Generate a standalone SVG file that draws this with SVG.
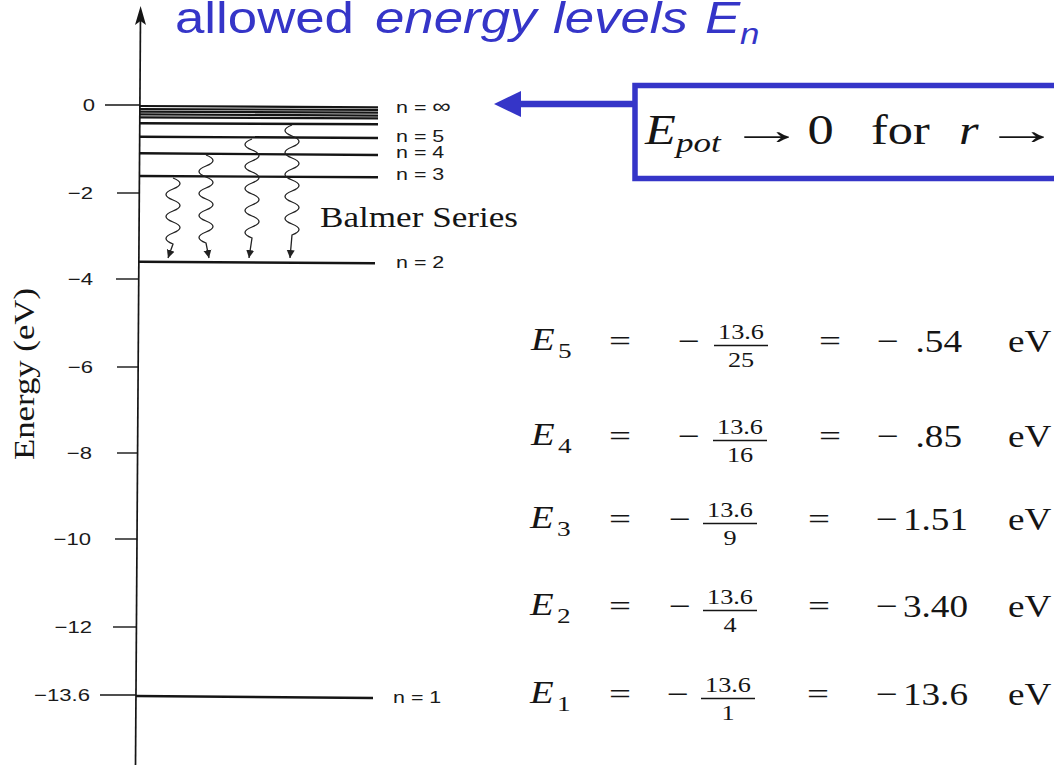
<svg xmlns="http://www.w3.org/2000/svg" width="1054" height="765" viewBox="0 0 1054 765">
<style>
.ink{stroke:#151515;fill:none}
.lvl{stroke:#151515;stroke-width:2.4;fill:none}
.clu{stroke:#151515;stroke-width:2.2;fill:none}
.tick{stroke:#151515;stroke-width:1.4}
.sans{font-family:"Liberation Sans",Arial,sans-serif;fill:#1a1a1a}
.tl{font-size:17px}
.nl{font-size:16.5px}
.serif{font-family:"Liberation Serif","Times New Roman",serif;fill:#151515}
.mi{font-style:italic;font-size:31px}
.sub{font-size:21px}
.mo{font-size:30px}
.fr{font-size:21px}
.mn{font-size:31px}
.blue{fill:#3535c8}
.wave{stroke:#222;stroke-width:1.3;fill:none}
</style>
<defs>
<marker id="wh" viewBox="0 0 8 10" refX="8" refY="5" markerWidth="8" markerHeight="10" markerUnits="userSpaceOnUse" orient="auto">
<path d="M0,1 L8,5 L0,9 Z" fill="#222"/>
</marker>
</defs>
<rect width="1054" height="765" fill="#ffffff"/>

<g id="axis">
<line x1="140.5" y1="14" x2="135.5" y2="765" stroke="#151515" stroke-width="1.7"/>
<path d="M140.6,6 L146,25 L140.5,21 L135,25 Z" fill="#151515"/>
<line class="tick" x1="105" y1="105" x2="140" y2="105"/>
<line class="tick" x1="117" y1="193" x2="139.5" y2="193"/>
<line class="tick" x1="116" y1="279" x2="139" y2="279"/>
<line class="tick" x1="117" y1="367" x2="138.5" y2="367"/>
<line class="tick" x1="117" y1="453" x2="138" y2="453"/>
<line class="tick" x1="115" y1="539" x2="137" y2="539"/>
<line class="tick" x1="113" y1="627" x2="136.5" y2="627"/>
<line class="tick" x1="100" y1="695" x2="136" y2="695"/>
<text class="sans tl" text-anchor="end" transform="translate(95 111) scale(1.3 1)">0</text>
<text class="sans tl" text-anchor="end" transform="translate(93 199) scale(1.3 1)">−2</text>
<text class="sans tl" text-anchor="end" transform="translate(93 285) scale(1.3 1)">−4</text>
<text class="sans tl" text-anchor="end" transform="translate(93 373) scale(1.3 1)">−6</text>
<text class="sans tl" text-anchor="end" transform="translate(92 459) scale(1.3 1)">−8</text>
<text class="sans tl" text-anchor="end" transform="translate(91 545) scale(1.3 1)">−10</text>
<text class="sans tl" text-anchor="end" transform="translate(92 633) scale(1.3 1)">−12</text>
<text class="sans tl" text-anchor="end" transform="translate(90 701) scale(1.3 1)">−13.6</text>
<text class="serif" font-size="30" textLength="172" lengthAdjust="spacingAndGlyphs" transform="translate(34 460) rotate(-90)">Energy (eV)</text>
</g>

<g id="level-inf">
<line class="clu" x1="140" y1="106" x2="378" y2="107.3"/>
<line class="clu" x1="140" y1="109" x2="378" y2="110"/>
<line class="clu" x1="140" y1="111.7" x2="378" y2="112.7"/>
<line class="clu" x1="140" y1="114.3" x2="378" y2="115.7"/>
<line class="clu" x1="140" y1="117.3" x2="378" y2="118.3"/>
<text class="sans nl" transform="translate(396 113) scale(1.3 1)">n = <tspan font-size="20">∞</tspan></text>
</g>
<g id="level-6">
<line class="lvl" x1="140" y1="123.3" x2="378" y2="124.3"/>
</g>
<g id="level-5">
<line class="lvl" x1="140" y1="136.7" x2="378" y2="138"/>
<text class="sans nl" transform="translate(396 142) scale(1.3 1)">n = 5</text>
</g>
<g id="level-4">
<line class="lvl" x1="140" y1="153.3" x2="378" y2="155"/>
<text class="sans nl" transform="translate(396 158) scale(1.3 1)">n = 4</text>
</g>
<g id="level-3">
<line class="lvl" x1="140" y1="176" x2="378" y2="177.3"/>
<text class="sans nl" transform="translate(396 180) scale(1.3 1)">n = 3</text>
</g>
<g id="level-2">
<line class="lvl" x1="139" y1="261.7" x2="375" y2="263.3"/>
<text class="sans nl" transform="translate(396 268) scale(1.3 1)">n = 2</text>
</g>
<g id="level-1">
<line class="lvl" x1="136" y1="696" x2="373" y2="698"/>
<text class="sans nl" transform="translate(393 703) scale(1.3 1)">n = 1</text>
</g>
<g id="balmer-label">
<text class="serif" font-size="29" x="320" y="227" textLength="198" lengthAdjust="spacingAndGlyphs">Balmer Series</text>
</g>

<g id="transitions">
<path class="wave" marker-end="url(#wh)" d="M173,178 q14,5.5 0,11 t0,11 t0,11 t0,11 t0,11 t0,11 L168,258"/>
<path class="wave" marker-end="url(#wh)" d="M206,155 q14,5.5 0,11 t0,11 t0,11 t0,11 t0,11 t0,11 t0,11 t0,11 L209,258"/>
<path class="wave" marker-end="url(#wh)" d="M252,139 q-14,5.5 0,11 t0,11 t0,11 t0,11 t0,11 t0,11 t0,11 t0,11 t0,11 L249,258"/>
<path class="wave" marker-end="url(#wh)" d="M292,125 q-14,5.5 0,11 t0,11 t0,11 t0,11 t0,11 t0,11 t0,11 t0,11 t0,11 t0,11 L290,258"/>
</g>

<g id="title">
<text class="sans blue" font-size="44" transform="translate(175 33) scale(1.2 1)">allowed</text>
<text class="sans blue" font-size="44" font-style="italic" transform="translate(375 33) scale(1.2 1)">energy</text>
<text class="sans blue" font-size="44" font-style="italic" transform="translate(553 33) scale(1.2 1)">levels</text>
<text class="sans blue" font-size="44" font-style="italic" transform="translate(705 33) scale(1.2 1)">E</text>
<text class="sans blue" font-size="29" font-style="italic" transform="translate(740 44) scale(1.2 1)">n</text>
</g>

<g id="potential-box">
<line x1="634" y1="104" x2="516" y2="104" stroke="#3535c8" stroke-width="6.5"/>
<path d="M494,104 L521,91 L521,117 Z" fill="#3535c8"/>
<rect x="635" y="85.5" width="430" height="93" fill="#ffffff" stroke="#3535c8" stroke-width="5.5"/>
<text class="serif" font-size="42" font-style="italic" transform="translate(645 144) scale(1.2 1)">E</text>
<text class="serif" font-size="28" font-style="italic" transform="translate(676 152) scale(1.25 1)">pot</text>
<text class="serif" font-size="42" text-anchor="middle" transform="translate(767 144) scale(1.8 1)">→</text>
<text class="serif" font-size="42" text-anchor="middle" transform="translate(820.5 144) scale(1.25 1)">0</text>
<text class="serif" font-size="42" transform="translate(871 144) scale(1.2 1)">for</text>
<text class="serif" font-size="42" font-style="italic" transform="translate(959 144) scale(1.2 1)">r</text>
<text class="serif" font-size="42" text-anchor="middle" transform="translate(1022 144) scale(1.8 1)">→</text>
</g>

<g id="eq-E5">
<text class="serif mi" transform="translate(531 350) scale(1.25 1)">E</text>
<text class="serif sub" transform="translate(558 358) scale(1.3 1)">5</text>
<text class="serif mo" text-anchor="middle" transform="translate(620 351) scale(1.3 1)">=</text>
<text class="serif mo" text-anchor="middle" transform="translate(689 351) scale(1.3 1)">−</text>
<text class="serif fr" text-anchor="middle" transform="translate(741 339) scale(1.25 1)">13.6</text>
<line class="ink" x1="714" y1="345.5" x2="768" y2="345.5" stroke-width="1.5"/>
<text class="serif fr" text-anchor="middle" transform="translate(741 367) scale(1.25 1)">25</text>
<text class="serif mo" text-anchor="middle" transform="translate(830 351) scale(1.3 1)">=</text>
<text class="serif mo" text-anchor="middle" transform="translate(888 351) scale(1.3 1)">−</text>
<text class="serif mn" text-anchor="end" transform="translate(962 352) scale(1.2 1)">.54</text>
<text class="serif mn" transform="translate(1008 352) scale(1.2 1)">eV</text>
</g>
<g id="eq-E4">
<text class="serif mi" transform="translate(531 445) scale(1.25 1)">E</text>
<text class="serif sub" transform="translate(558 453) scale(1.3 1)">4</text>
<text class="serif mo" text-anchor="middle" transform="translate(620 446) scale(1.3 1)">=</text>
<text class="serif mo" text-anchor="middle" transform="translate(689 446) scale(1.3 1)">−</text>
<text class="serif fr" text-anchor="middle" transform="translate(740 434) scale(1.25 1)">13.6</text>
<line class="ink" x1="713" y1="440.5" x2="767" y2="440.5" stroke-width="1.5"/>
<text class="serif fr" text-anchor="middle" transform="translate(740 462) scale(1.25 1)">16</text>
<text class="serif mo" text-anchor="middle" transform="translate(830 446) scale(1.3 1)">=</text>
<text class="serif mo" text-anchor="middle" transform="translate(888 446) scale(1.3 1)">−</text>
<text class="serif mn" text-anchor="end" transform="translate(962 447) scale(1.2 1)">.85</text>
<text class="serif mn" transform="translate(1008 447) scale(1.2 1)">eV</text>
</g>
<g id="eq-E3">
<text class="serif mi" transform="translate(530 528) scale(1.25 1)">E</text>
<text class="serif sub" transform="translate(557 536) scale(1.3 1)">3</text>
<text class="serif mo" text-anchor="middle" transform="translate(620 529) scale(1.3 1)">=</text>
<text class="serif mo" text-anchor="middle" transform="translate(680 529) scale(1.3 1)">−</text>
<text class="serif fr" text-anchor="middle" transform="translate(730 517) scale(1.25 1)">13.6</text>
<line class="ink" x1="703" y1="523.5" x2="757" y2="523.5" stroke-width="1.5"/>
<text class="serif fr" text-anchor="middle" transform="translate(730 545) scale(1.25 1)">9</text>
<text class="serif mo" text-anchor="middle" transform="translate(819 529) scale(1.3 1)">=</text>
<text class="serif mo" text-anchor="middle" transform="translate(887 529) scale(1.3 1)">−</text>
<text class="serif mn" text-anchor="end" transform="translate(968 530) scale(1.2 1)">1.51</text>
<text class="serif mn" transform="translate(1008 530) scale(1.2 1)">eV</text>
</g>
<g id="eq-E2">
<text class="serif mi" transform="translate(530 615) scale(1.25 1)">E</text>
<text class="serif sub" transform="translate(557 623) scale(1.3 1)">2</text>
<text class="serif mo" text-anchor="middle" transform="translate(620 616) scale(1.3 1)">=</text>
<text class="serif mo" text-anchor="middle" transform="translate(680 616) scale(1.3 1)">−</text>
<text class="serif fr" text-anchor="middle" transform="translate(730 604) scale(1.25 1)">13.6</text>
<line class="ink" x1="703" y1="610.5" x2="757" y2="610.5" stroke-width="1.5"/>
<text class="serif fr" text-anchor="middle" transform="translate(730 632) scale(1.25 1)">4</text>
<text class="serif mo" text-anchor="middle" transform="translate(819 616) scale(1.3 1)">=</text>
<text class="serif mo" text-anchor="middle" transform="translate(887 616) scale(1.3 1)">−</text>
<text class="serif mn" text-anchor="end" transform="translate(968 617) scale(1.2 1)">3.40</text>
<text class="serif mn" transform="translate(1008 617) scale(1.2 1)">eV</text>
</g>
<g id="eq-E1">
<text class="serif mi" transform="translate(530 703) scale(1.25 1)">E</text>
<text class="serif sub" transform="translate(557 711) scale(1.3 1)">1</text>
<text class="serif mo" text-anchor="middle" transform="translate(620 704) scale(1.3 1)">=</text>
<text class="serif mo" text-anchor="middle" transform="translate(678 704) scale(1.3 1)">−</text>
<text class="serif fr" text-anchor="middle" transform="translate(728 692) scale(1.25 1)">13.6</text>
<line class="ink" x1="701" y1="698.5" x2="755" y2="698.5" stroke-width="1.5"/>
<text class="serif fr" text-anchor="middle" transform="translate(728 720) scale(1.25 1)">1</text>
<text class="serif mo" text-anchor="middle" transform="translate(818 704) scale(1.3 1)">=</text>
<text class="serif mo" text-anchor="middle" transform="translate(887 704) scale(1.3 1)">−</text>
<text class="serif mn" text-anchor="end" transform="translate(968 705) scale(1.2 1)">13.6</text>
<text class="serif mn" transform="translate(1008 705) scale(1.2 1)">eV</text>
</g>
</svg>
